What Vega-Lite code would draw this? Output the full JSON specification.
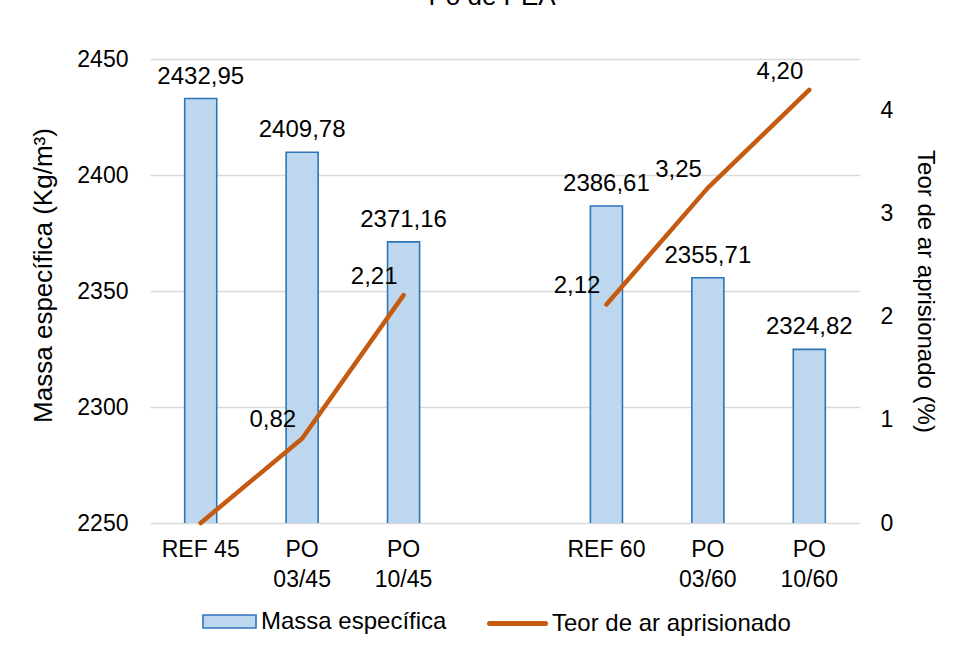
{
  "$schema": "https://vega.github.io/schema/vega-lite/v6.json",
  "width": 710,
  "height": 464,
  "autosize": {"type": "none"},
  "padding": {"left": 150, "top": 59, "right": 95, "bottom": 125},
  "background": "white",
  "title": {
    "text": "Pó de PEA",
    "anchor": "middle",
    "frame": "group",
    "fontSize": 26,
    "fontWeight": "normal",
    "color": "#000000",
    "offset": 17,
    "dx": -13,
    "baseline": "alphabetic"
  },
  "config": {
    "locale": {"number": {"decimal": ",", "thousands": ".", "grouping": [3], "currency": ["", ""]}},
    "font": "Liberation Sans",
    "view": {"stroke": null},
    "axis": {
      "labelFont": "Liberation Sans",
      "titleFont": "Liberation Sans",
      "labelColor": "#000000",
      "titleColor": "#000000",
      "labelFontSize": 23,
      "titleFontSize": 24,
      "titleFontWeight": "normal",
      "ticks": false,
      "domain": false
    },
    "legend": {
      "labelFont": "Liberation Sans",
      "labelFontSize": 24,
      "labelColor": "#000000",
      "labelLimit": 400,
      "title": null
    }
  },
  "data": {
    "values": [
      {"ensaio": "REF 45", "serie": "45", "massa": 2432.95, "ar": 0},
      {"ensaio": "PO 03/45", "serie": "45", "massa": 2409.78, "ar": 0.82},
      {"ensaio": "PO 10/45", "serie": "45", "massa": 2371.16, "ar": 2.21},
      {"ensaio": "REF 60", "serie": "60", "massa": 2386.61, "ar": 2.12},
      {"ensaio": "PO 03/60", "serie": "60", "massa": 2355.71, "ar": 3.25},
      {"ensaio": "PO 10/60", "serie": "60", "massa": 2324.82, "ar": 4.2}
    ]
  },
  "encoding": {
    "x": {
      "field": "ensaio",
      "type": "nominal",
      "sort": null,
      "scale": {
        "domain": ["REF 45", "PO 03/45", "PO 10/45", " ", "REF 60", "PO 03/60", "PO 10/60"],
        "paddingInner": 0.684,
        "paddingOuter": 0.342
      },
      "axis": {
        "title": null,
        "labelAngle": 0,
        "labelPadding": 15,
        "labelBaseline": "top",
        "labelLineHeight": 30,
        "labelFontSize": 23,
        "grid": false,
        "labelExpr": "indexof(datum.label, 'PO') == 0 ? split(datum.label, ' ') : datum.label"
      }
    }
  },
  "layer": [
    {
      "encoding": {
        "y": {
          "field": "massa",
          "type": "quantitative",
          "scale": {"domain": [2250, 2450], "zero": false, "nice": false},
          "axis": {
            "title": "Massa específica (Kg/m³)",
            "titleFontSize": 26,
            "titleY": 216,
            "values": [2250, 2300, 2350, 2400, 2450],
            "format": "d",
            "grid": true,
            "gridColor": "#D9D9D9",
            "gridWidth": 1.3,
            "labelPadding": 22,
            "titlePadding": 20
          }
        }
      },
      "layer": [
        {
          "mark": {"type": "bar", "stroke": "#2E75B6", "strokeWidth": 1.6, "clip": true},
          "encoding": {
            "fill": {
              "datum": "Massa específica",
              "type": "nominal",
              "scale": {"range": ["#BDD7EE"]},
              "legend": {
                "orient": "none",
                "legendX": 52,
                "legendY": 535,
                "padding": 0,
                "symbolType": "M-1,-0.245H1V0.245H-1Z",
                "symbolSize": 2809,
                "symbolStrokeColor": "#2E75B6",
                "symbolStrokeWidth": 1.6,
                "labelOffset": 4
              }
            }
          }
        },
        {
          "mark": {"type": "text", "fontSize": 24, "baseline": "alphabetic", "dy": -15, "color": "#000000"},
          "encoding": {"text": {"field": "massa", "type": "quantitative", "format": ".2f"}}
        }
      ]
    },
    {
      "encoding": {
        "y": {
          "field": "ar",
          "type": "quantitative",
          "scale": {"domain": [0, 4.5], "nice": false},
          "axis": {
            "orient": "right",
            "title": "Teor de ar aprisionado (%)",
            "values": [0, 1, 2, 3, 4],
            "format": "d",
            "grid": false,
            "labelPadding": 20,
            "titlePadding": 20
          }
        }
      },
      "layer": [
        {
          "mark": {"type": "line", "strokeWidth": 4.5, "strokeCap": "round", "strokeJoin": "round"},
          "encoding": {
            "detail": {"field": "serie"},
            "stroke": {
              "datum": "Teor de ar aprisionado",
              "type": "nominal",
              "scale": {"range": ["#C55A11"]},
              "legend": {
                "orient": "none",
                "legendX": 337,
                "legendY": 534,
                "padding": 0,
                "symbolType": "stroke",
                "symbolSize": 3136,
                "symbolStrokeWidth": 5,
                "labelOffset": 4,
                "encode": {"symbols": {"update": {"strokeCap": {"value": "round"}}}}
              }
            }
          }
        },
        {
          "transform": [{"filter": "datum.ar > 0"}],
          "mark": {"type": "text", "fontSize": 24, "align": "right", "baseline": "middle", "dx": -6, "dy": -18, "color": "#000000"},
          "encoding": {"text": {"field": "ar", "type": "quantitative", "format": ".2f"}}
        }
      ]
    }
  ],
  "resolve": {"scale": {"y": "independent", "fill": "independent", "stroke": "independent"}}
}
